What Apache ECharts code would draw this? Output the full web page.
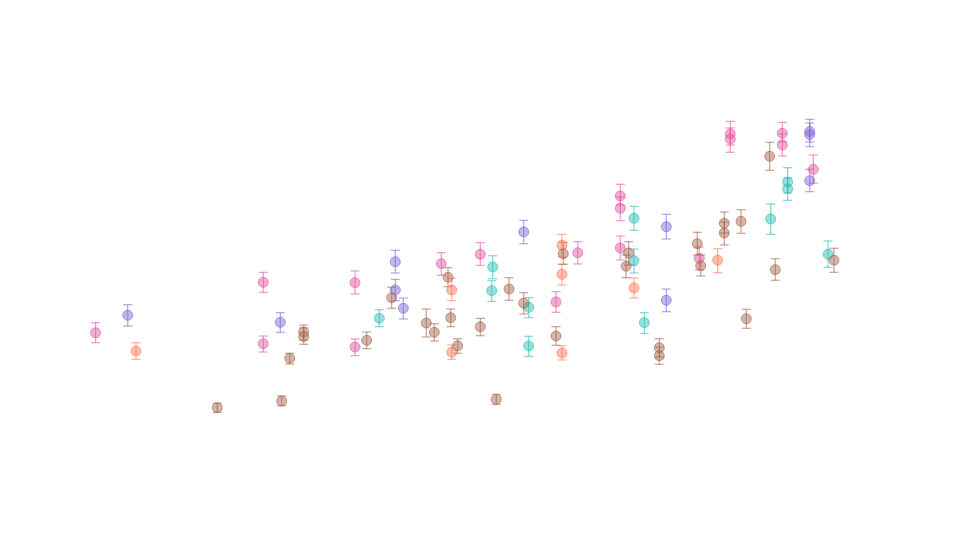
<!DOCTYPE html>
<html>
<head>
<meta charset="utf-8">
<script src="https://cdn.jsdelivr.net/npm/echarts@6/dist/echarts.min.js"></script>
<style>
html,body{margin:0;padding:0;background:#fff;}
#chart{width:980px;height:549px;}
</style>
</head>
<body>
<div id="chart"></div>
<script>
// Each row: [x, y, low, high]
const pinkData = [
  [1.9, 36.43, 34.10, 38.76],
  [22.35, 48.18, 45.85, 50.51],
  [22.35, 33.87, 31.93, 35.66],
  [33.54, 48.09, 45.45, 50.82],
  [33.54, 33.10, 31.07, 34.97],
  [44.06, 52.52, 49.81, 55.08],
  [48.82, 54.71, 52.14, 57.41],
  [58.05, 43.59, 41.19, 45.99],
  [60.70, 55.08, 52.45, 57.65],
  [65.89, 68.30, 66.20, 71.03],
  [65.89, 65.43, 62.54, 68.07],
  [65.89, 56.18, 53.38, 58.97],
  [75.52, 53.78, 51.05, 56.41],
  [79.30, 82.75, 80.19, 85.71],
  [79.30, 81.59, 78.48, 84.15],
  [85.65, 82.91, 80.89, 85.48],
  [85.65, 80.19, 77.62, 82.75],
  [89.43, 74.52, 71.26, 77.86]
];
const purpleData = [
  [5.82, 40.49, 38.00, 42.96],
  [24.43, 38.86, 36.53, 41.10],
  [38.45, 52.98, 50.35, 55.64],
  [38.45, 46.39, 43.89, 48.88],
  [39.43, 42.12, 39.63, 44.52],
  [54.11, 59.91, 57.18, 62.63],
  [71.50, 61.14, 58.28, 64.03],
  [71.50, 43.99, 41.33, 46.62],
  [88.99, 83.33, 80.89, 86.18],
  [88.99, 82.63, 79.79, 85.31],
  [88.99, 71.86, 69.30, 74.52]
];
const orangeData = [
  [6.83, 32.17, 30.23, 34.10],
  [45.33, 46.39, 43.89, 49.11],
  [45.33, 31.86, 30.23, 33.57],
  [58.78, 56.81, 54.08, 59.37],
  [58.78, 50.05, 47.55, 52.38],
  [58.78, 31.70, 30.07, 33.40],
  [67.56, 46.85, 44.52, 49.18],
  [77.77, 53.31, 50.42, 56.01]
];
const tealData = [
  [36.50, 39.79, 37.83, 41.79],
  [50.33, 51.75, 49.02, 54.38],
  [50.21, 46.22, 43.75, 48.55],
  [54.72, 42.35, 39.93, 44.59],
  [54.72, 33.33, 30.93, 35.59],
  [67.56, 63.10, 60.30, 65.90],
  [67.56, 53.22, 50.35, 55.94],
  [68.82, 38.76, 36.29, 41.10],
  [84.23, 62.94, 59.37, 66.43],
  [86.30, 71.56, 69.00, 74.90],
  [86.30, 70.00, 67.30, 72.49],
  [91.22, 54.71, 51.68, 57.81]
];
const brownData = [
  [16.74, 18.95, 17.88, 19.98],
  [24.60, 20.51, 19.42, 21.68],
  [25.57, 30.47, 29.14, 31.63],
  [27.28, 36.60, 34.73, 38.23],
  [27.28, 35.55, 33.73, 37.53],
  [34.96, 34.66, 32.70, 36.60],
  [38.01, 44.59, 42.12, 47.02],
  [42.23, 38.69, 35.43, 41.96],
  [43.21, 36.53, 34.50, 38.53],
  [44.88, 49.35, 47.16, 51.59],
  [45.21, 39.93, 37.83, 41.96],
  [46.06, 33.40, 31.63, 35.03],
  [48.82, 37.83, 35.73, 39.79],
  [50.77, 20.91, 19.74, 22.07],
  [52.32, 46.62, 43.99, 49.25],
  [54.11, 43.29, 40.79, 45.76],
  [58.05, 35.66, 33.50, 37.83],
  [58.94, 54.85, 52.38, 57.51],
  [66.91, 55.01, 52.21, 57.65],
  [66.59, 51.91, 49.25, 54.55],
  [70.65, 32.94, 30.77, 35.03],
  [70.65, 31.07, 29.07, 33.10],
  [75.28, 57.18, 54.55, 59.84],
  [75.70, 52.05, 49.65, 54.55],
  [78.57, 61.93, 59.67, 64.57],
  [78.57, 59.67, 56.88, 62.24],
  [80.61, 62.40, 59.60, 65.11],
  [81.26, 39.70, 37.46, 41.89],
  [84.11, 77.55, 74.29, 80.82],
  [84.79, 51.12, 48.65, 53.68],
  [91.95, 53.31, 50.51, 56.11]
];

const groups = [
  {name: 'A', data: pinkData, rgb: '226,86,160'},
  {name: 'B', data: purpleData, rgb: '130,100,220'},
  {name: 'C', data: orangeData, rgb: '255,120,85'},
  {name: 'D', data: tealData, rgb: '40,190,182'},
  {name: 'E', data: brownData, rgb: '165,100,75'}
];

function errorBarItem(rgb) {
  return function (params, api) {
    const x = api.value(0);
    const lo = api.coord([x, api.value(2)]);
    const hi = api.coord([x, api.value(3)]);
    const hw = 4.5;
    const style = {stroke: 'rgba(' + rgb + ',0.6)', lineWidth: 1.2, fill: null};
    return {
      type: 'group',
      children: [
        {type: 'line', shape: {x1: hi[0], y1: hi[1], x2: lo[0], y2: lo[1]}, style: style},
        {type: 'line', shape: {x1: hi[0] - hw, y1: hi[1], x2: hi[0] + hw, y2: hi[1]}, style: style},
        {type: 'line', shape: {x1: lo[0] - hw, y1: lo[1], x2: lo[0] + hw, y2: lo[1]}, style: style}
      ]
    };
  };
}

const series = [];
groups.forEach(function (g) {
  series.push({
    type: 'custom',
    name: g.name,
    data: g.data,
    encode: {x: 0, y: [2, 3]},
    renderItem: errorBarItem(g.rgb),
    silent: true,
    z: 1
  });
  series.push({
    type: 'scatter',
    name: g.name,
    data: g.data.map(function (d) { return [d[0], d[1]]; }),
    symbolSize: 10,
    itemStyle: {
      color: 'rgba(' + g.rgb + ',0.6)',
      borderColor: 'rgba(' + g.rgb + ',0.75)',
      borderWidth: 1
    },
    z: 2
  });
});

const chart = echarts.init(document.getElementById('chart'));
chart.setOption({
  animation: false,
  backgroundColor: '#fff',
  grid: {left: 80, right: 80, top: 60, bottom: 60},
  xAxis: {type: 'value', min: 0, max: 100, show: false},
  yAxis: {type: 'value', min: 0, max: 100, show: false},
  series: series
});
</script>
</body>
</html>
